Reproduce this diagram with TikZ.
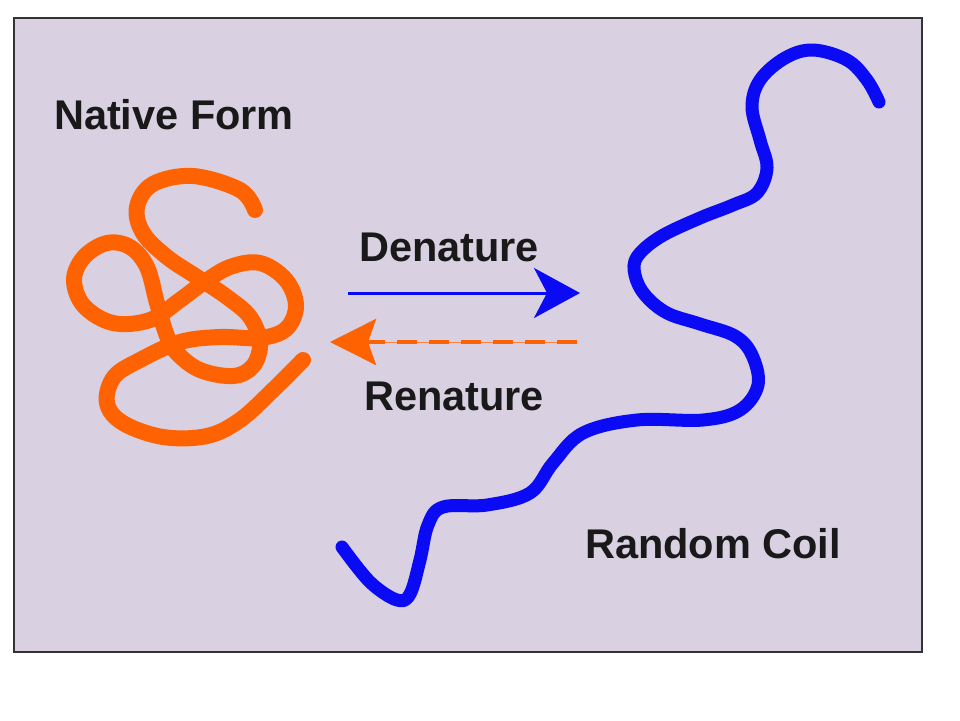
\documentclass[tikz,border=0pt]{standalone}
\usepackage{fontspec}
\setmainfont{Liberation Sans}
\usetikzlibrary{arrows.meta}
\definecolor{panel}{HTML}{D9D0E1}
\definecolor{coilorange}{HTML}{FF6200}
\definecolor{coilblue}{HTML}{0A0AF5}
\definecolor{framegray}{HTML}{333333}
\tikzset{
  lbl/.style={font=\fontsize{41.5}{46}\selectfont\bfseries, text=black!90, inner sep=0pt},
  chain/.style={line width=#1, line cap=round, line join=round},
}
\begin{document}
\begin{tikzpicture}[x=1pt,y=-1pt]
\useasboundingbox (0,0) rectangle (960,720);
\fill[white] (0,0) rectangle (960,720);
\draw[fill=panel, draw=framegray, line width=2pt] (14,18) rectangle (922,652);

% labels
\node[lbl] (native) at (174,115) {Native Form};
\node[lbl] (den) at (449,247) {Denature};
\node[lbl] (ren) at (454,396) {Renature};
\node[lbl] (rand) at (713,544) {Random Coil};

% orange tangled chain (native form)
\draw[coilorange, chain=16pt] plot[smooth, tension=0.6] coordinates {
 (255,210) (240,190) (193,176) (153,184) (137,207) (143,233) (167,257)
 (197,277) (227,297) (250,317) (260,343) (253,366) (233,376) (200,370)
 (177,353) (167,336) (157,303) (147,267) (130,247) (107,243) (84,257)
 (74,280) (84,306) (113,323) (150,320) (180,300) (203,283) (230,267)
 (260,263) (286,280) (296,306) (286,329) (260,338) (220,337) (180,342)
 (140,360) (114,377) (107,403) (123,423) (163,437) (207,436) (240,420)
 (273,390) (303,360)};

% blue random coil
\draw[coilblue, chain=13pt] plot[smooth, tension=0.6] coordinates {
 (879,102) (867,80) (847,60) (813,50) (785,58) (760,80) (752,107)
 (760,140) (767,168) (757,193) (733,205) (700,218) (660,237) (637,257)
 (635,275) (645,295) (667,313) (700,324) (735,336) (752,355) (758,385)
 (740,410) (703,420) (637,420) (583,433) (553,463) (530,493) (487,505)
 (443,507) (428,525) (420,560) (410,594) (397,600) (370,582) (342,547)};

% arrows
\coordinate (dS) at (348,293);
\coordinate (dE) at (580,293);
\coordinate (rS) at (577,342);
\coordinate (rE) at (330,342);
\draw[coilblue, line width=3pt, -{Stealth[length=46pt, width=50pt, inset=13pt]}] (dS) -- (dE);
\draw[coilorange!70!panel, line width=1pt] (rS) -- (368,342);
\draw[coilorange, line width=4pt, dash pattern=on 20pt off 12pt, -{Stealth[length=46pt, width=46pt, inset=8pt]}] (rS) -- (rE);
\end{tikzpicture}
\end{document}
